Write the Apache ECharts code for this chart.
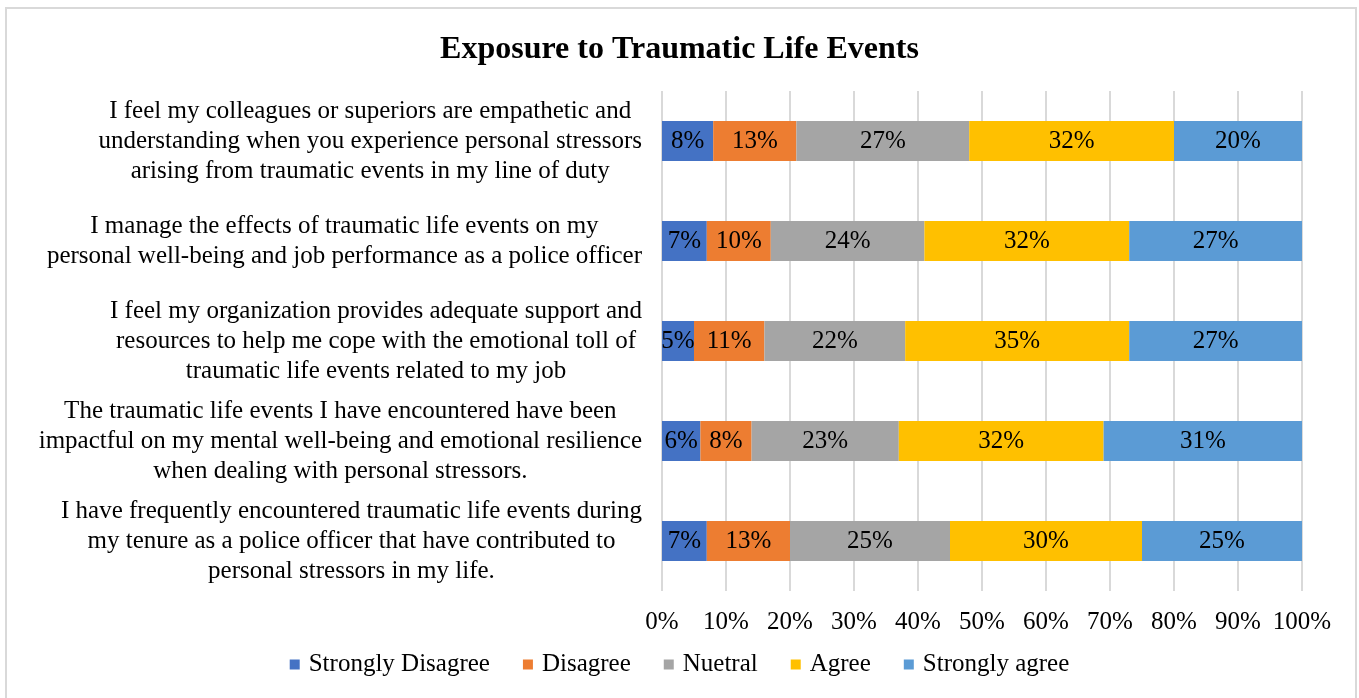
<!DOCTYPE html>
<html>
<head>
<meta charset="utf-8">
<script src="https://cdn.jsdelivr.net/npm/echarts@6/dist/echarts.min.js"></script>
<style>
  html, body { margin: 0; padding: 0; background: #fff; }
  #chart { width: 1359px; height: 698px; }
</style>
</head>
<body>
<div id="chart"></div>
<script>
// questions, top to bottom as shown
var questions = [
    ['I feel my colleagues or superiors are empathetic and', 'understanding when you experience personal stressors', 'arising from traumatic events in my line of duty'],
    ['I manage the effects of traumatic life events on my', 'personal well-being and job performance as a police officer'],
    ['I feel my organization provides adequate support and', 'resources to help me cope with the emotional toll of', 'traumatic life events related to my job'],
    ['The traumatic life events I have encountered have been', 'impactful on my mental well-being and emotional resilience', 'when dealing with personal stressors.'],
    ['I have frequently encountered traumatic life events during', 'my tenure as a police officer that have contributed to', 'personal stressors in my life.']
];

var seriesNames = ['Strongly Disagree', 'Disagree', 'Nuetral', 'Agree', 'Strongly agree'];

// percentages per question (same order as questions)
var stronglyDisagree = [8, 7, 5, 6, 7];
var disagree = [13, 10, 11, 8, 13];
var neutral = [27, 24, 22, 23, 25];
var agree = [32, 32, 35, 32, 30];
var stronglyAgree = [20, 27, 27, 31, 25];

var colors = ['#4472C4', '#ED7D31', '#A5A5A5', '#FFC000', '#5B9BD5'];
var font = "'Liberation Serif', 'Times New Roman', serif";

var chart = echarts.init(document.getElementById('chart'));

var allValues = [stronglyDisagree, disagree, neutral, agree, stronglyAgree];
var series = allValues.map(function (vals, i) {
    return {
        name: seriesNames[i],
        type: 'bar',
        stack: 'total',
        barWidth: 40,
        data: vals,
        itemStyle: { color: colors[i] },
        label: {
            show: true,
            position: 'inside',
            formatter: '{c}%',
            color: '#000',
            fontFamily: font,
            fontSize: 25
        }
    };
});

var option = {
    animation: false,
    color: colors,
    title: {
        text: 'Exposure to Traumatic Life Events',
        left: 'center',
        top: 29,
        textStyle: { fontFamily: font, fontSize: 32, fontWeight: 'bold', color: '#000' }
    },
    legend: {
        data: seriesNames,
        bottom: 16,
        left: 'center',
        icon: 'rect',
        itemWidth: 10,
        itemHeight: 10,
        itemGap: 33,
        textStyle: { fontFamily: font, fontSize: 25, color: '#000', padding: [0, 0, 0, 4] }
    },
    grid: {
        left: 662,
        right: 57,
        top: 91,
        bottom: 107,
        containLabel: false
    },
    xAxis: {
        type: 'value',
        min: 0,
        max: 100,
        interval: 10,
        axisLine: { show: false },
        axisTick: { show: false },
        splitLine: { show: true, lineStyle: { color: '#d9d9d9', width: 2 } },
        axisLabel: {
            formatter: '{value}%',
            margin: 19,
            color: '#000',
            fontFamily: font,
            fontSize: 25
        }
    },
    yAxis: {
        type: 'category',
        inverse: true,
        data: questions.map(function (q) { return q.join('\n'); }),
        axisLine: { show: false },
        axisTick: { show: false },
        axisLabel: {
            margin: 20,
            formatter: function (value) {
                return value.split('\n').map(function (l) { return '{c|' + l + '}'; }).join('\n');
            },
            rich: {
                c: {
                    align: 'center',
                    fontFamily: font,
                    fontSize: 25,
                    lineHeight: 30,
                    color: '#000'
                }
            }
        }
    },
    graphic: [{
        type: 'rect',
        silent: true,
        shape: { x: 6, y: 8, width: 1350, height: 700 },
        style: { fill: 'none', stroke: '#d9d9d9', lineWidth: 2 }
    }],
    series: series
};

chart.setOption(option);
</script>
</body>
</html>
